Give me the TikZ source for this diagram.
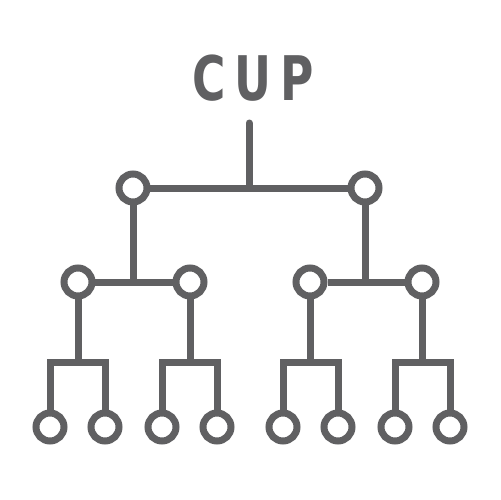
\documentclass[tikz,border=0pt]{standalone}
\usepackage{fontspec}
\newfontfamily\cupfont[LetterSpace=20]{DejaVu Sans}
\definecolor{cupgray}{RGB}{96,96,98}

\begin{document}
\begin{tikzpicture}[x=0.02cm, y=-0.02cm,
        every path/.style={draw=cupgray, line width=0.14cm},
        team/.style={draw=cupgray, circle, line width=0.14cm, minimum size=0.56cm, inner sep=0pt, fill=white}]
        \useasboundingbox[fill=white, draw=none] (0,0) rectangle (500,500);
        \node[text=cupgray, inner sep=0pt, draw=none] (Title) at (253,78) {
            \scalebox{0.74}[1]{\fontsize{35}{35}\cupfont\bfseries CUP}
        };
        \coordinate (Stem) at (249,123);
        % final
        \node[team] (Semi1) at (133,188) {};
        \node[team] (Semi2) at (365,188) {};
        % semi finals
        \node[team] (Quarter1) at (78,282) {};
        \node[team] (Quarter2) at (190,282) {};
        \node[team] (Quarter3) at (310,282) {};
        \node[team] (Quarter4) at (422,282) {};
        % quarter finals
        \coordinate (Split1) at (78,362);
        \coordinate (Split2) at (190,362);
        \coordinate (Split3) at (310,362);
        \coordinate (Split4) at (422,362);
        \node[team] (Team1) at (50,427) {};
        \node[team] (Team2) at (105,427) {};
        \node[team] (Team3) at (162,427) {};
        \node[team] (Team4) at (217,427) {};
        \node[team] (Team5) at (283,427) {};
        \node[team] (Team6) at (338,427) {};
        \node[team] (Team7) at (395,427) {};
        \node[team] (Team8) at (450,427) {};
        \draw (Semi1) -- (Semi2);
        \draw[line cap=round] (Stem) -- (Stem |- Semi1);
        \draw (Quarter1) -- (Quarter2);
        \draw (Quarter3) -- (Quarter4);
        \draw (Semi1) -- (Semi1 |- Quarter1);
        \draw (Semi2) -- (Semi2 |- Quarter3);
        \draw (Quarter1) -- (Split1);
        \draw (Quarter2) -- (Split2);
        \draw (Quarter3) -- (Split3);
        \draw (Quarter4) -- (Split4);
        \draw (Team1) |- (Split1) -| (Team2);
        \draw (Team3) |- (Split2) -| (Team4);
        \draw (Team5) |- (Split3) -| (Team6);
        \draw (Team7) |- (Split4) -| (Team8);
    \end{tikzpicture}
\end{document}
